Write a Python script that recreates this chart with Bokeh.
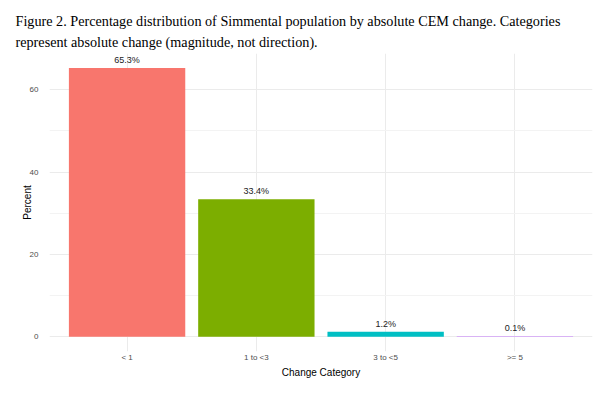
from bokeh.plotting import figure
from bokeh.models import ColumnDataSource, FactorRange, Range1d, FixedTicker, Title
from bokeh.core.properties import value
from bokeh.embed import file_html
from bokeh.resources import INLINE

categories = ["< 1", "1 to <3", "3 to <5", ">= 5"]
percent = [65.3, 33.4, 1.2, 0.1]
bar_labels = ["65.3%", "33.4%", "1.2%", "0.1%"]
colors = ["#F8766D", "#7CAE00", "#00BFC4", "#C77CFF"]
y_ticks = [0, 20, 40, 60]
y_minor = [10, 30, 50]

title_1 = "Figure 2. Percentage distribution of Simmental population by absolute CEM change. Categories"
title_2 = "represent absolute change (magnitude, not direction)."

src = ColumnDataSource(dict(cat=categories, pct=percent, lab=bar_labels, col=colors))

p = figure(
    width=604, height=388,
    x_range=FactorRange(*categories, range_padding=0.05),
    y_range=Range1d(-3.6, 68.8),
    output_backend="svg", toolbar_location=None,
    min_border_left=49, min_border_right=12, min_border_top=53, min_border_bottom=37,
)
p.outline_line_color = None
p.background_fill_color = "white"
p.border_fill_color = "white"

# titles (inner line added first)
t2 = Title(text=title_2, text_font="Liberation Serif", text_font_size="14.2px",
           text_font_style="normal", text_color="black", offset=-34, standoff=7)
t1 = Title(text=title_1, text_font="Liberation Serif", text_font_size="14.2px",
           text_font_style="normal", text_color="black", offset=-34, standoff=0)
p.add_layout(t2, "above")
p.add_layout(t1, "above")

p.vbar(x="cat", top="pct", width=0.9, color="col", source=src, line_color=None)
p.text(x="cat", y="pct", text="lab", source=src, text_align="center",
       text_baseline="bottom", y_offset=-3, text_font_size="9px",
       text_color="#222222", text_font=value("Liberation Sans"))

p.yaxis.ticker = FixedTicker(ticks=y_ticks, minor_ticks=y_minor)
p.ygrid.grid_line_color = "#EBEBEB"
p.ygrid.minor_grid_line_color = "#F3F3F3"
p.xgrid.grid_line_color = "#EBEBEB"

for ax in (p.xaxis, p.yaxis):
    ax.axis_line_color = None
    ax.major_tick_line_color = None
    ax.minor_tick_line_color = None
    ax.major_label_text_font = "Liberation Sans"
    ax.major_label_text_font_size = "8px"
    ax.major_label_text_color = "#4D4D4D"
    ax.axis_label_text_font = "Liberation Sans"
    ax.axis_label_text_font_size = "10px"
    ax.axis_label_text_font_style = "normal"
    ax.axis_label_text_color = "black"

p.xaxis.axis_label = "Change Category"
p.yaxis.axis_label = "Percent"
p.xaxis.major_label_standoff = -5
p.xaxis.axis_label_standoff = 2
p.yaxis.major_label_standoff = 5
p.yaxis.axis_label_standoff = -6

open("out.html", "w").write(file_html(p, INLINE))
